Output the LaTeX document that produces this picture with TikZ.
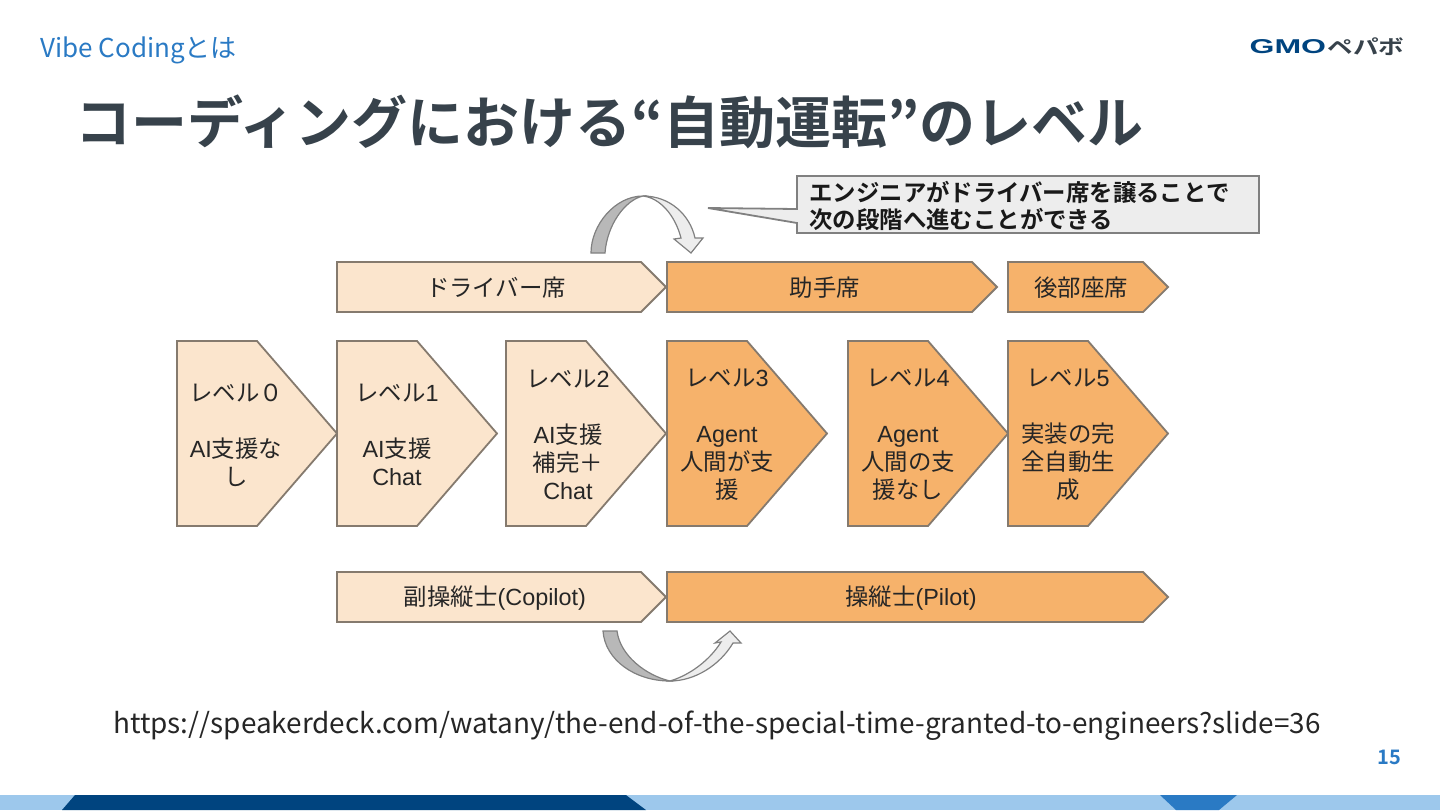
\documentclass[tikz,border=0pt]{standalone}
\usepackage{fontspec}
\setmainfont{Liberation Sans}
\newfontfamily\jp{Noto Sans CJK JP}
\newfontfamily\jpbold{Noto Sans CJK JP Bold}
\definecolor{lightfill}{HTML}{FBE5CD}
\definecolor{darkfill}{HTML}{F6B26B}
\definecolor{boxline}{HTML}{857A6E}
\definecolor{slideblue}{HTML}{2A7AC4}
\definecolor{navy}{HTML}{00447F}
\definecolor{paleblue}{HTML}{9DC8EC}
\definecolor{titlegray}{HTML}{37424B}
\tikzset{
  lightbox/.style={draw=boxline, fill=lightfill, line width=0.9pt},
  darkbox/.style={draw=boxline, fill=darkfill, line width=0.9pt},
  boxtext/.style={inner sep=0pt, align=center, text=black!85, font=\fontsize{11.7}{14}\selectfont},
  arrowdark/.style={draw=gray, fill=black!28, line width=0.6pt},
  arrowlight/.style={draw=gray, fill=black!7, line width=0.6pt},
}
\begin{document}
\begin{tikzpicture}[x=0.5pt, y=-0.5pt]
\useasboundingbox (0,0) rectangle (1440,810);

% Footer band
\fill[paleblue] (0,795) rectangle (1440,810);
\fill[navy] (75,795) -- (626,795) -- (646,810) -- (62,810) -- cycle;
\fill[slideblue] (1160,795) -- (1237,795) -- (1219,810) -- (1176,810) -- cycle;

% Slide texts
\node[inner sep=0pt, anchor=west, text=slideblue, font=\jp\fontsize{13}{16}\selectfont] (section) at (40,50) {Vibe Codingとは};
\node[inner sep=0pt, anchor=west, text=titlegray, font=\jpbold\fontsize{28}{34}\selectfont] (title) at (75,122) {コーディングにおける“自動運転”のレベル};
\node[inner sep=0pt, text=black!85, font=\jp\fontsize{13.96}{18}\selectfont] (source) at (717,726) {https://speakerdeck.com/watany/the-end-of-the-special-time-granted-to-engineers?slide=36};
\node[inner sep=0pt, text=slideblue, font=\jpbold\fontsize{10}{12}\selectfont] (pageno) at (1389,757) {15};

% Logo
\node[inner sep=0pt, anchor=west, xscale=1.6, text=navy, font=\bfseries\fontsize{10}{10}\selectfont] (logogmo) at (1249,47) {GMO};
\node[inner sep=0pt, anchor=west, xscale=1.28, text=titlegray, font=\jpbold\fontsize{10}{10}\selectfont] (logoname) at (1327,47) {ペパボ};

% Seat row
\draw[lightbox] (337,262) -- (641,262) -- (666,287) -- (641,312) -- (337,312) -- cycle;
\draw[darkbox] (667,262) -- (972,262) -- (997,287) -- (972,312) -- (667,312) -- cycle;
\draw[darkbox] (1008,262) -- (1143,262) -- (1168,287) -- (1143,312) -- (1008,312) -- cycle;
\node[boxtext] (driver) at (496,288) {\jp ドライバー席};
\node[boxtext] (assistant) at (825,288) {\jp 助手席};
\node[boxtext] (rear) at (1081,288) {\jp 後部座席};

% Level row
\foreach \x/\kind in {177/lightbox, 337/lightbox, 506/lightbox, 667/darkbox, 848/darkbox, 1008/darkbox}
  \draw[\kind] (\x,341) -- (\x+80,341) -- (\x+160,433.5) -- (\x+80,526) -- (\x,526) -- cycle;
\node[boxtext] (level0) at (236,435) {{\jp レベル０}\\[14pt]AI{\jp 支援な}\\{\jp し}};
\node[boxtext] (level1) at (397,435) {{\jp レベル}1\\[14pt]AI{\jp 支援}\\Chat};
\node[boxtext] (level2) at (568,435) {{\jp レベル}2\\[14pt]AI{\jp 支援}\\{\jp 補完＋}\\Chat};
\node[boxtext] (level3) at (727,435) {{\jp レベル}3\\[14pt]Agent\\{\jp 人間が支}\\{\jp 援}};
\node[boxtext] (level4) at (908,435) {{\jp レベル}4\\[14pt]Agent\\{\jp 人間の支}\\{\jp 援なし}};
\node[boxtext] (level5) at (1068,435) {{\jp レベル}5\\[14pt]{\jp 実装の完}\\{\jp 全自動生}\\{\jp 成}};

% Pilot row
\draw[lightbox] (337,572) -- (641,572) -- (666,597) -- (641,622) -- (337,622) -- cycle;
\draw[darkbox] (667,572) -- (1143,572) -- (1168,597) -- (1143,622) -- (667,622) -- cycle;
\node[boxtext] (copilot) at (495,598) {{\jp 副操縦士}(Copilot)};
\node[boxtext] (pilot) at (911,598) {{\jp 操縦士}(Pilot)};

% Callout
\draw[draw=gray, fill=black!7, line width=0.9pt] (797,176) -- (1259,176) -- (1259,233) -- (797,233) -- (797,223) -- (708,208) -- (797,209) -- cycle;
\node[inner sep=0pt, anchor=west, align=left, text=black!90, font=\jpbold\fontsize{11.7}{13.5}\selectfont] (callout) at (809,206) {エンジニアがドライバー席を譲ることで\\次の段階へ進むことができる};

% Curved arrows
\draw[arrowdark] (591,253) -- (605,253) .. controls (607,225) and (625,200) .. (643,196) .. controls (615,196) and (591,225) .. (591,253) -- cycle;
\draw[arrowlight] (643,196) .. controls (670,196) and (690,215) .. (695,238) -- (703,238) -- (691,253) -- (674,239) -- (681,238) .. controls (675,215) and (660,198) .. (643,196) -- cycle;
\draw[arrowdark] (603,631) -- (617,631) .. controls (620,655) and (645,675) .. (670,681) .. controls (635,681) and (605,660) .. (603,631) -- cycle;
\draw[arrowlight] (670,681) .. controls (695,681) and (720,665) .. (733,643) -- (741,643) -- (730,631) -- (715,643) -- (721,642) .. controls (710,660) and (690,675) .. (670,681) -- cycle;
\end{tikzpicture}
\end{document}
